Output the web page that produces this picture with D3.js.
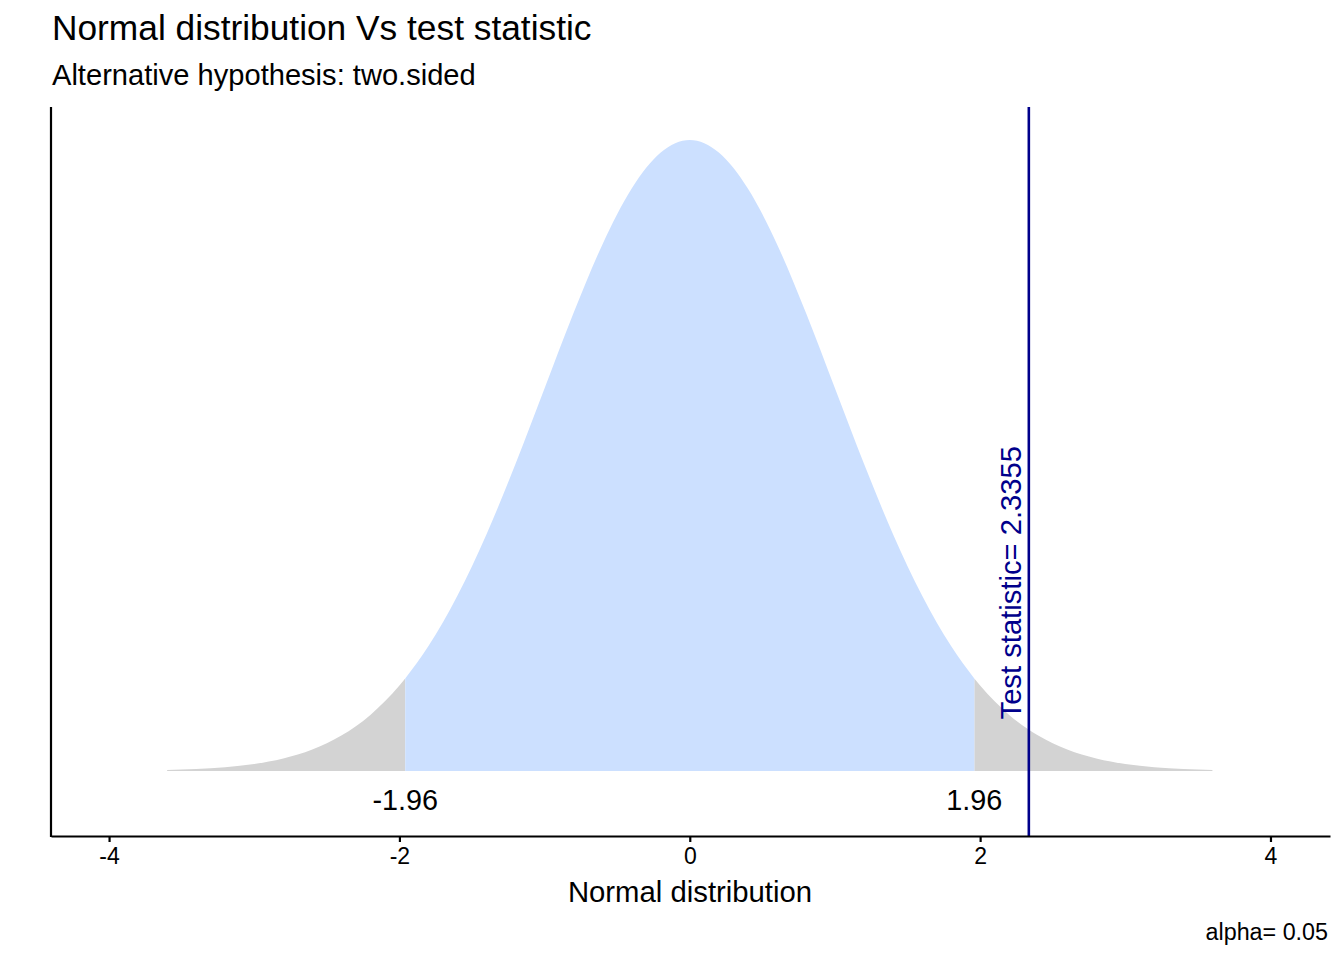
<!DOCTYPE html>
<html>
<head>
<meta charset="utf-8">
<script src="https://cdn.jsdelivr.net/npm/d3@7"></script>
<style>
  body { margin: 0; background: #fff; }
  text { font-family: "Liberation Sans", Arial, sans-serif; }
</style>
</head>
<body>
<div id="chart"></div>
<script>
// density of the standard normal, read at steps of 0.2 (plus the critical values)
var densX = [-3.6, -3.4, -3.2, -3.0, -2.8, -2.6, -2.4, -2.2, -2.0, -1.96, -1.8, -1.6, -1.4, -1.2, -1.0,
  -0.8, -0.6, -0.4, -0.2, 0, 0.2, 0.4, 0.6, 0.8, 1.0, 1.2, 1.4, 1.6, 1.8, 1.96, 2.0,
  2.2, 2.4, 2.6, 2.8, 3.0, 3.2, 3.4, 3.6];
var densY = [0.00061, 0.00123, 0.00238, 0.00443, 0.00792, 0.01358, 0.02239, 0.03547, 0.05399, 0.05845,
  0.07895, 0.11092, 0.14973, 0.19419, 0.24197, 0.28969, 0.33322, 0.36827, 0.39104, 0.39894,
  0.39104, 0.36827, 0.33322, 0.28969, 0.24197, 0.19419, 0.14973, 0.11092, 0.07895, 0.05845,
  0.05399, 0.03547, 0.02239, 0.01358, 0.00792, 0.00443, 0.00238, 0.00123, 0.00061];
var critValues = [-1.96, 1.96];
var critLabels = ["-1.96", "1.96"];
var testStat = 2.3355;
var alpha = 0.05;
var xTicks = [-4, -2, 0, 2, 4];
var xTickLabels = ["-4", "-2", "0", "2", "4"];

var width = 1344, height = 960;
var svg = d3.select("#chart").append("svg")
  .attr("width", width)
  .attr("height", height);

var x = d3.scaleLinear().domain([-4.4, 4.41]).range([51, 1330]);
var y = d3.scaleLinear().domain([-0.0411, 0.4198]).range([836, 107]);

var pts = densX.map(function(d, i){ return {x: d, y: densY[i]}; });

var area = d3.area()
  .x(function(d){ return x(d.x); })
  .y0(y(0))
  .y1(function(d){ return y(d.y); })
  .curve(d3.curveMonotoneX);

var lo = critValues[0], hi = critValues[1];

svg.append("path")
  .datum(pts.filter(function(d){ return d.x <= lo; }))
  .attr("fill", "#d3d3d3")
  .attr("d", area);

svg.append("path")
  .datum(pts.filter(function(d){ return d.x >= hi; }))
  .attr("fill", "#d3d3d3")
  .attr("d", area);

svg.append("path")
  .datum(pts.filter(function(d){ return d.x >= lo && d.x <= hi; }))
  .attr("fill", "#cce0ff")
  .attr("d", area);

// critical value labels
svg.selectAll(".crit")
  .data(critValues).enter()
  .append("text")
  .attr("class", "crit")
  .attr("x", function(d){ return x(d); })
  .attr("y", y(-0.0185))
  .attr("dy", "0.35em")
  .attr("text-anchor", "middle")
  .attr("font-size", 28.8)
  .attr("fill", "#000")
  .text(function(d, i){ return critLabels[i]; });

// test statistic line
svg.append("line")
  .attr("x1", x(testStat)).attr("x2", x(testStat))
  .attr("y1", y.range()[1]).attr("y2", y.range()[0])
  .attr("stroke", "#00008b")
  .attr("stroke-width", 2.6);

svg.append("text")
  .attr("transform", "translate(" + (x(testStat) - 8) + "," + y(0.119) + ") rotate(-90)")
  .attr("text-anchor", "middle")
  .attr("font-size", 29.2)
  .attr("fill", "#00008b")
  .text("Test statistic= " + testStat);

// axes
var xAxis = svg.append("g")
  .attr("transform", "translate(0,836)")
  .call(d3.axisBottom(x).tickValues(xTicks)
    .tickFormat(function(d, i){ return xTickLabels[i]; })
    .tickSize(6).tickPadding(6).tickSizeOuter(0));
xAxis.select(".domain").attr("stroke", "#000").attr("stroke-width", 2.2);
xAxis.selectAll(".tick line").attr("stroke", "#000").attr("stroke-width", 2.2);
xAxis.selectAll(".tick text")
  .attr("font-size", 23)
  .attr("font-family", "Liberation Sans, Arial, sans-serif")
  .attr("fill", "#000");

svg.append("line")
  .attr("x1", 51).attr("x2", 51)
  .attr("y1", 107).attr("y2", 837)
  .attr("stroke", "#000")
  .attr("stroke-width", 2.2);

// titles
svg.append("text")
  .attr("x", 52).attr("y", 40)
  .attr("font-size", 35.3)
  .attr("fill", "#000")
  .text("Normal distribution Vs test statistic");

svg.append("text")
  .attr("x", 52).attr("y", 85)
  .attr("font-size", 29.1)
  .attr("fill", "#000")
  .text("Alternative hypothesis: two.sided");

svg.append("text")
  .attr("x", 690).attr("y", 902)
  .attr("text-anchor", "middle")
  .attr("font-size", 29.3)
  .attr("fill", "#000")
  .text("Normal distribution");

svg.append("text")
  .attr("x", 1328).attr("y", 940)
  .attr("text-anchor", "end")
  .attr("font-size", 23.3)
  .attr("fill", "#000")
  .text("alpha= " + alpha);
</script>
</body>
</html>
